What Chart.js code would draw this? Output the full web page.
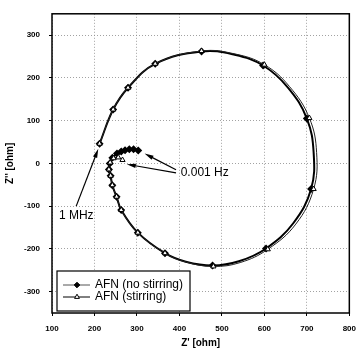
<!DOCTYPE html>
<html>
<head>
<meta charset="utf-8">
<script src="https://cdn.jsdelivr.net/npm/chart.js@4/dist/chart.umd.min.js"></script>
<style>
  html, body { margin: 0; padding: 0; background: #fff; }
  #wrap { width: 364px; height: 352px; }
</style>
</head>
<body>
<div id="wrap"><canvas id="nyquist" width="364" height="352"></canvas></div>
<script>
// --- Data (Z' and Z'' in ohm), from 1 MHz down to 0.001 Hz ---
// the *Mark arrays say which samples carry a plotted symbol (1) and which only shape the line (0)
const noStirRe = [212, 244, 279, 343, 452, 530, 597, 655, 700, 716, 710, 668, 604, 540, 478, 415, 366, 302, 263, 252, 242, 238, 234, 236, 242, 253, 263, 272, 282, 292, 303];
const noStirIm = [46, 126, 177, 233, 262, 254, 229, 178, 105, 25, -60, -140, -199, -229, -239, -230, -210, -162, -109, -78, -51, -29, -14, 0, 13, 23, 28, 31, 33, 33, 30];
const noStirMark = [1, 1, 1, 1, 1, 0, 1, 0, 1, 0, 1, 0, 1, 0, 1, 0, 1, 1, 1, 1, 1, 1, 1, 1, 1, 1, 1, 1, 1, 1, 1];

const stirRe = [212, 244, 279, 343, 452, 531, 600, 659, 706, 723, 716, 674, 608, 543, 480, 416, 366, 302, 263, 252, 242, 238, 234, 237, 245, 256, 266];
const stirIm = [46, 126, 177, 233, 263, 256, 231, 180, 106, 25, -60, -142, -201, -232, -241, -231, -210, -162, -109, -78, -51, -29, -14, 2, 12, 14, 8];
const stirMark = [1, 1, 1, 1, 1, 0, 1, 0, 1, 0, 1, 0, 1, 0, 1, 0, 1, 1, 1, 1, 1, 1, 1, 1, 1, 1, 1];

const seriesNames = ['AFN (no stirring)', 'AFN (stirring)'];
const xTicks = [100, 200, 300, 400, 500, 600, 700, 800];
const yTicks = [-300, -200, -100, 0, 100, 200, 300];

// annotation anchors, in data units
const mhzArrow = [[157, -100], [209, 34]];
const mhzLabel = { text: '1 MHz', x: 157, y: -122 };
const lowArrows = [[[392, -15], [318, 23]], [[392, -22], [276, -2]]];
const lowLabel = { text: '0.001 Hz', x: 403, y: -21 };

const toPoints = (xs, ys) => xs.map((x, i) => ({ x, y: ys[i] }));

const tickFont = { family: 'Liberation Sans, Arial, sans-serif', size: 8, weight: 'bold' };
const titleFont = { family: 'Liberation Sans, Arial, sans-serif', size: 10, weight: 'bold' };
const textFont = '12px "Liberation Sans", Arial, sans-serif';

function drawArrow(ctx, x1, y1, x2, y2) {
    const ang = Math.atan2(y2 - y1, x2 - x1);
    const len = 9, half = 2.2;
    ctx.beginPath();
    ctx.moveTo(x1, y1);
    ctx.lineTo(x2 - Math.cos(ang) * len * 0.8, y2 - Math.sin(ang) * len * 0.8);
    ctx.stroke();
    ctx.beginPath();
    ctx.moveTo(x2, y2);
    ctx.lineTo(x2 - Math.cos(ang) * len - Math.sin(ang) * half, y2 - Math.sin(ang) * len + Math.cos(ang) * half);
    ctx.lineTo(x2 - Math.cos(ang) * len + Math.sin(ang) * half, y2 - Math.sin(ang) * len - Math.cos(ang) * half);
    ctx.closePath();
    ctx.fill();
}

// frame, arrows, labels and the boxed legend inside the plot
const decorations = {
    id: 'decorations',
    afterDatasetsDraw(chart) {
        const { ctx, chartArea: a, scales: { x, y } } = chart;
        const px = v => x.getPixelForValue(v);
        const py = v => y.getPixelForValue(v);
        ctx.save();

        ctx.strokeStyle = '#000';
        ctx.fillStyle = '#000';
        ctx.lineWidth = 1.5;
        ctx.strokeRect(a.left, a.top, a.right - a.left, a.bottom - a.top);

        ctx.lineWidth = 1.2;
        drawArrow(ctx, px(mhzArrow[0][0]), py(mhzArrow[0][1]), px(mhzArrow[1][0]), py(mhzArrow[1][1]));
        lowArrows.forEach(([s, e]) => drawArrow(ctx, px(s[0]), py(s[1]), px(e[0]), py(e[1])));

        ctx.font = textFont;
        ctx.textBaseline = 'middle';
        ctx.textAlign = 'center';
        ctx.fillText(mhzLabel.text, px(mhzLabel.x), py(mhzLabel.y));
        ctx.textAlign = 'left';
        ctx.fillText(lowLabel.text, px(lowLabel.x), py(lowLabel.y));

        // legend box
        const bx = a.left + 5, bw = 133, bh = 40, by = a.bottom - 2 - bh;
        ctx.fillStyle = '#fff';
        ctx.fillRect(bx, by, bw, bh);
        ctx.lineWidth = 1.2;
        ctx.strokeStyle = '#000';
        ctx.strokeRect(bx, by, bw, bh);
        chart.data.datasets.forEach((ds, i) => {
            const ry = by + 14 + i * 12;
            ctx.strokeStyle = i === 0 ? '#555' : '#000';
            ctx.lineWidth = 1;
            ctx.beginPath();
            ctx.moveTo(bx + 6, ry);
            ctx.lineTo(bx + 33, ry);
            ctx.stroke();
            ctx.fillStyle = ds.pointBackgroundColor;
            ctx.strokeStyle = ds.pointBorderColor;
            ctx.lineWidth = 1;
            Chart.helpers.drawPoint(ctx, { pointStyle: ds.pointStyle, radius: 2.8, borderWidth: 1, rotation: 0 }, bx + 20, ry);
            ctx.fillStyle = '#000';
            ctx.font = textFont;
            ctx.textAlign = 'left';
            ctx.fillText(ds.label, bx + 38, ry);
        });
        ctx.restore();
    }
};

new Chart(document.getElementById('nyquist'), {
    type: 'line',
    data: {
        datasets: [
            {
                label: seriesNames[0],
                data: toPoints(noStirRe, noStirIm),
                borderColor: '#000',
                borderWidth: 2,
                pointStyle: 'rectRot',
                pointRadius: noStirMark.map(m => m ? 2.6 : 0),
                pointBackgroundColor: '#000',
                pointBorderColor: '#000',
                tension: 0.4,
                order: 1
            },
            {
                label: seriesNames[1],
                data: toPoints(stirRe, stirIm),
                borderColor: '#222',
                borderWidth: 1,
                pointStyle: 'triangle',
                pointRadius: stirMark.map(m => m ? 3 : 0),
                pointBackgroundColor: '#fff',
                pointBorderColor: '#000',
                pointBorderWidth: 1,
                tension: 0.4,
                order: 0
            }
        ]
    },
    options: {
        responsive: false,
        animation: false,
        layout: { padding: { top: 13, right: 9, left: 0, bottom: 0 } },
        plugins: { legend: { display: false }, tooltip: { enabled: false } },
        scales: {
            x: {
                type: 'linear',
                min: 100,
                max: 800,
                afterBuildTicks: s => { s.ticks = xTicks.map(v => ({ value: v })); },
                afterFit: s => { s.height = 39; },
                ticks: { font: tickFont, color: '#000', padding: 8, maxRotation: 0 },
                grid: { color: '#8a8a8a', lineWidth: 0.8, tickLength: 3, tickColor: '#000', tickWidth: 1 },
                border: { display: false, dash: [1, 2] },
                title: { display: true, text: "Z' [ohm]", font: titleFont, color: '#000', padding: { top: 0, bottom: 3 } }
            },
            y: {
                type: 'linear',
                min: -350,
                max: 350,
                afterBuildTicks: s => { s.ticks = yTicks.map(v => ({ value: v })); },
                afterFit: s => { s.width = 52; },
                ticks: { font: tickFont, color: '#000', padding: 9 },
                grid: { color: '#8a8a8a', lineWidth: 0.8, tickLength: 3, tickColor: '#000', tickWidth: 1 },
                border: { display: false, dash: [1, 2] },
                title: { display: true, text: "Z'' [ohm]", font: titleFont, color: '#000', padding: { top: 4, bottom: 0 } }
            }
        }
    },
    plugins: [decorations]
});
</script>
</body>
</html>
